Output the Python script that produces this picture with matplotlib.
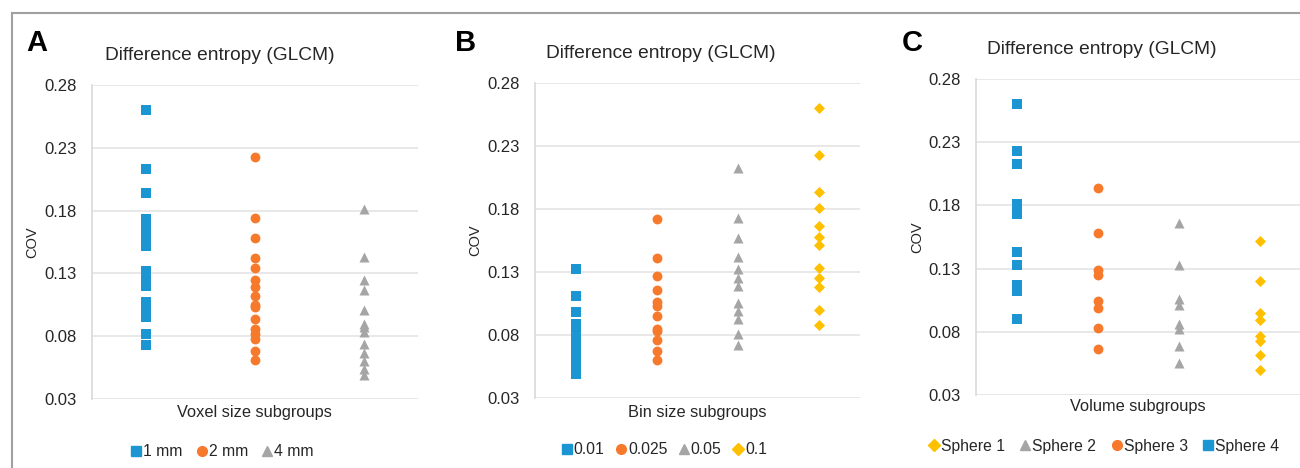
import numpy as np
import matplotlib
matplotlib.use("Agg")
import matplotlib.pyplot as plt
from matplotlib.lines import Line2D

plt.rcParams['font.family'] = ['Liberation Sans', 'DejaVu Sans']

# %% Datos (COV)
# Panel A: tamaño de voxel
a_labels = ["1 mm", "2 mm", "4 mm"]
a_1mm = [0.260, 0.213, 0.194, 0.173, 0.168, 0.162, 0.157, 0.152,
         0.132, 0.128, 0.124, 0.120, 0.107, 0.103, 0.099, 0.095, 0.082, 0.073]
a_2mm = [0.223, 0.174, 0.158, 0.142, 0.134, 0.125, 0.119, 0.112, 0.105, 0.103,
         0.094, 0.086, 0.082, 0.078, 0.068, 0.061]
a_4mm = [0.181, 0.143, 0.125, 0.117, 0.101, 0.090, 0.087, 0.083, 0.074,
         0.067, 0.060, 0.054, 0.049]

# Panel B: tamaño de bin
b_labels = ["0.01", "0.025", "0.05", "0.1"]
b_001 = [0.132, 0.111, 0.098, 0.089, 0.083, 0.078, 0.072, 0.066, 0.060, 0.055, 0.049]
b_0025 = [0.172, 0.141, 0.127, 0.116, 0.106, 0.103, 0.095, 0.085, 0.083, 0.076,
          0.067, 0.060]
b_005 = [0.212, 0.173, 0.157, 0.142, 0.132, 0.125, 0.119, 0.105, 0.099, 0.093,
         0.081, 0.072]
b_01 = [0.260, 0.223, 0.193, 0.181, 0.166, 0.158, 0.151, 0.133, 0.125, 0.118,
        0.100, 0.088]

# Panel C: volumen (columnas de izquierda a derecha: Sphere 4, 3, 2, 1)
c_labels = ["Sphere 1", "Sphere 2", "Sphere 3", "Sphere 4"]
c_sph4 = [0.260, 0.223, 0.213, 0.181, 0.177, 0.173, 0.143, 0.133, 0.117, 0.112, 0.090]
c_sph3 = [0.194, 0.158, 0.129, 0.125, 0.104, 0.099, 0.083, 0.066]
c_sph2 = [0.166, 0.133, 0.106, 0.101, 0.086, 0.082, 0.069, 0.055]
c_sph1 = [0.152, 0.120, 0.095, 0.089, 0.077, 0.073, 0.062, 0.050]

yticks = [0.03, 0.08, 0.13, 0.18, 0.23, 0.28]

# %% Estilos
BLUE = '#1b96d3'
ORANGE = '#f7792b'
GRAY = '#a5a5a5'
YELLOW = '#ffc000'
TXT = '#262626'
MK = {'s': dict(marker='s', s=52), 'o': dict(marker='o', s=50),
      '^': dict(marker='^', s=52), 'D': dict(marker='D', s=32)}

W, H = 1300, 468
fig = plt.figure(figsize=(W/100, H/100), dpi=100)


def fx(px):
    return px / W


def fy(py):
    return 1 - py / H


def panel(rect, series, nx):
    ax = fig.add_axes(rect)
    for i, (vals, color, mk) in enumerate(series):
        ax.scatter(np.full(len(vals), i + 1), vals, color=color, linewidths=0,
                   zorder=3, **MK[mk])
    ax.set_xlim(0.5, nx + 0.5)
    ax.set_ylim(0.03, 0.28)
    ax.set_yticks(yticks)
    ax.set_yticklabels([f"{v:.2f}" for v in yticks])
    ax.set_xticks([])
    ax.tick_params(axis='y', length=0, pad=11, labelsize=12, labelcolor=TXT)
    ax.grid(axis='y', color='#e4e4e4', linewidth=1.2, zorder=0)
    for s in ['top', 'right', 'bottom']:
        ax.spines[s].set_visible(False)
    ax.spines['left'].set_color('#d9d9d9')
    ax.spines['left'].set_linewidth(1.2)
    ax.set_axisbelow(True)
    return ax


def texts(letter, lx, ly, tx, ty, cx, cy, xl, xlx, xly):
    fig.text(fx(lx), fy(ly), letter, fontsize=21, fontweight='bold',
             ha='left', va='center', color='black')
    fig.text(fx(tx), fy(ty), "Difference entropy (GLCM)", fontsize=13.8,
             ha='center', va='center', color=TXT)
    fig.text(fx(cx), fy(cy), "COV", fontsize=10.5, rotation=90,
             ha='center', va='center', color=TXT)
    fig.text(fx(xlx), fy(xly), xl, fontsize=11.8, ha='center', va='center',
             color=TXT)


def legend(ax, handles, labels, cx, cy, ncol, colsp):
    hs = [Line2D([], [], linestyle='none', color=c, marker=m,
                 markersize=7 if m != 'D' else 6) for c, m in handles]
    ax.legend(hs, labels, loc='center', bbox_to_anchor=(fx(cx), fy(cy)),
              bbox_transform=fig.transFigure, ncol=ncol, frameon=False,
              handlelength=0.7, handletextpad=0.1, columnspacing=colsp,
              fontsize=11.3, labelcolor=TXT, borderaxespad=0)


# %% A) Voxel size
axA = panel([fx(92), fy(399), fx(326), (399 - 85) / H],
            [(a_1mm, BLUE, 's'), (a_2mm, ORANGE, 'o'), (a_4mm, GRAY, '^')], 3)
texts("A", 26, 43, 220, 56, 32, 242, "Voxel size subgroups", 254, 413)
legend(axA, [(BLUE, 's'), (ORANGE, 'o'), (GRAY, '^')], a_labels, 222, 452, 3, 0.85)

# %% B) Bin size
axB = panel([fx(535), fy(398), fx(325), (398 - 82.7) / H],
            [(b_001, BLUE, 's'), (b_0025, ORANGE, 'o'), (b_005, GRAY, '^'),
             (b_01, YELLOW, 'D')], 4)
texts("B", 455, 43, 661, 53, 475, 240, "Bin size subgroups", 697, 412)
legend(axB, [(BLUE, 's'), (ORANGE, 'o'), (GRAY, '^'), (YELLOW, 'D')],
       b_labels, 664, 450, 4, 0.7)

# %% C) Volume
axC = panel([fx(976), fy(395), fx(324), (395 - 79) / H],
            [(c_sph4, BLUE, 's'), (c_sph3, ORANGE, 'o'), (c_sph2, GRAY, '^'),
             (c_sph1, YELLOW, 'D')], 4)
texts("C", 902, 43, 1102, 50, 917, 237, "Volume subgroups", 1138, 407)
legend(axC, [(YELLOW, 'D'), (GRAY, '^'), (ORANGE, 'o'), (BLUE, 's')],
       c_labels, 1104, 446, 4, 0.95)

# marco gris superior e izquierdo
fig.add_artist(Line2D([fx(12), 1], [fy(13), fy(13)], color='#a0a0a0', lw=1.5))
fig.add_artist(Line2D([fx(12), fx(12)], [fy(13), 0], color='#a0a0a0', lw=1.5))

fig.savefig("out.png", dpi=100)
